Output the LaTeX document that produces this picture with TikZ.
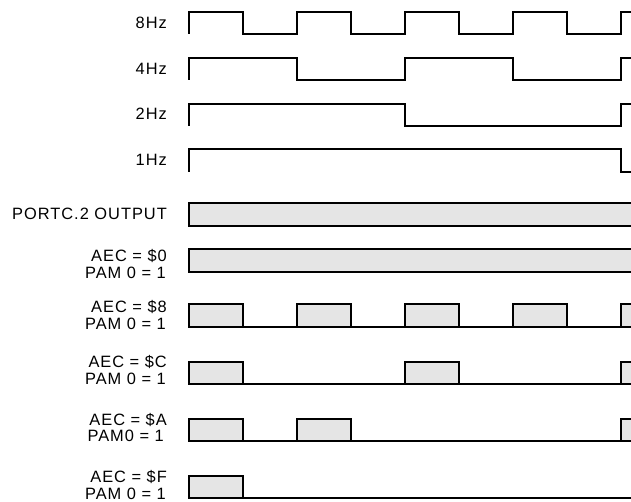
\documentclass[tikz,border=0pt]{standalone}
\usepackage{fontspec}
\setmainfont{Liberation Sans}[LetterSpace=6]
\begin{document}
\begin{tikzpicture}[x=1pt,y=-1pt,
  wave/.style={line width=1.5pt,line join=miter,black},
  bar/.style={line width=1.5pt,draw=black,fill=black!10},
  lbl/.style={anchor=base east,inner sep=0pt,font=\fontsize{16.4}{17}\selectfont}]
\useasboundingbox (0,0) rectangle (631,502);
\begin{scope}
\clip (0,0) rectangle (631,502);
% clocks
\draw[wave] (189,34)--(189,12)--(243,12)--(243,34)--(297,34)--(297,12)--(351,12)--(351,34)--(405,34)--(405,12)--(459,12)--(459,34)--(513,34)--(513,12)--(567,12)--(567,34)--(621,34)--(621,12)--(640,12);
\draw[wave] (189,80)--(189,58)--(297,58)--(297,80)--(405,80)--(405,58)--(513,58)--(513,80)--(621,80)--(621,58)--(640,58);
\draw[wave] (189,126)--(189,104)--(405,104)--(405,126)--(621,126)--(621,104)--(640,104);
\draw[wave] (189,172)--(189,149)--(621,149)--(621,172)--(640,172);
% full bars
\draw[bar] (189,203) rectangle (645,226);
\draw[bar] (189,249) rectangle (645,272);
% $8
\draw[wave] (189,327)--(640,327);
\foreach \a in {189,297,405,513,621} \draw[bar] (\a,304) rectangle ++(54,23);
% $C
\draw[wave] (189,384)--(640,384);
\foreach \a in {189,405,621} \draw[bar] (\a,362) rectangle ++(54,22);
% $A
\draw[wave] (189,441)--(640,441);
\foreach \a in {189,297,621} \draw[bar] (\a,419) rectangle ++(54,22);
% $F
\draw[wave] (189,498)--(640,498);
\draw[bar] (189,476) rectangle ++(54,22);
\end{scope}
% labels
\node[lbl] (l8) at (167,28.5) {8Hz};
\node[lbl] (l4) at (167,75) {4Hz};
\node[lbl] (l2) at (167,120) {2Hz};
\node[lbl] (l1) at (167,165.7) {1Hz};
\node[lbl] (lp) at (167,219.3) {PORTC.2 OUTPUT};
\node[lbl] (a0) at (167,261.7) {AEC = \$0};
\node[lbl] (b0) at (166,279) {PAM 0 = 1};
\node[lbl] (a8) at (167,312.7) {AEC = \$8};
\node[lbl] (b8) at (166,329) {PAM 0 = 1};
\node[lbl] (aC) at (167,367.7) {AEC = \$C};
\node[lbl] (bC) at (166,384.3) {PAM 0 = 1};
\node[lbl] (aA) at (167,425) {AEC = \$A};
\node[lbl] (bA) at (164,441.7) {PAM0 = 1};
\node[lbl] (aF) at (167,482.3) {AEC = \$F};
\node[lbl] (bF) at (166,499.3) {PAM 0 = 1};
\end{tikzpicture}
\end{document}
